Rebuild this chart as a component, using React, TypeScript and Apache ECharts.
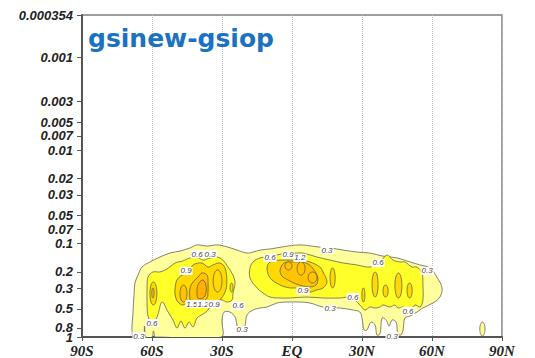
import React, { useEffect, useRef } from "react";
import * as echarts from "echarts";

// Zonal-mean difference field (latitude vs. pressure), drawn as filled contours.
// Every outline point is [latitude in degrees, pressure].

type LatP = [number, number];

const contourLevels = [0.3, 0.6, 0.9, 1.2, 1.5];
const levelColors = ["#ffff9c", "#ffff2a", "#ffd900", "#ffc300", "#ffb000"];

const xTickValues = [-90, -60, -30, 0, 30, 60, 90];
const xTickLabels = ["90S", "60S", "30S", "EQ", "30N", "60N", "90N"];

const yTickValues = [0.000354, 0.001, 0.003, 0.005, 0.007, 0.01, 0.02, 0.03, 0.05, 0.07, 0.1, 0.2, 0.3, 0.5, 0.8, 1];
const yTickLabels = ["0.000354", "0.001", "0.003", "0.005", "0.007", "0.01", "0.02", "0.03", "0.05", "0.07", "0.1", "0.2", "0.3", "0.5", "0.8", "1"];

// 0.3 contour: the broad band from 68S to 64N
const band03: LatP[] = [
  [-68.1, 1.0], [-68.1, 0.514], [-67.7, 0.355], [-67.3, 0.264], [-66.0, 0.217], [-64.3, 0.178],
  [-60.9, 0.157], [-56.6, 0.139], [-52.3, 0.126], [-48.0, 0.12], [-43.7, 0.111], [-40.7, 0.103],
  [-36.4, 0.106], [-32.1, 0.103], [-27.9, 0.108], [-23.6, 0.117], [-19.3, 0.126], [-16.7, 0.123],
  [-13.7, 0.117], [-9.4, 0.114], [-3.9, 0.108], [3.4, 0.103], [10.7, 0.108], [16.3, 0.111],
  [21.9, 0.117], [27.9, 0.123], [33.4, 0.126], [39.0, 0.136], [45.0, 0.142], [50.6, 0.157],
  [54.9, 0.169], [59.1, 0.182], [62.1, 0.228], [64.3, 0.298], [63.4, 0.373], [60.4, 0.432],
  [56.1, 0.489], [53.6, 0.54], [50.6, 0.596], [48.4, 0.626], [47.6, 0.841], [46.7, 0.952],
  [45.4, 0.929], [44.6, 0.691], [42.9, 0.657], [41.6, 0.762], [40.3, 0.657], [38.6, 0.626],
  [37.7, 0.929], [36.4, 0.952], [35.6, 0.744], [33.9, 0.691], [32.1, 0.841], [30.9, 0.841],
  [30.0, 0.626], [29.1, 0.54], [26.1, 0.514], [20.6, 0.489], [13.3, 0.477], [7.7, 0.432],
  [3.4, 0.422], [-2.1, 0.422], [-6.4, 0.432], [-10.7, 0.477], [-13.7, 0.489], [-16.7, 0.514],
  [-19.3, 0.581], [-20.1, 0.744], [-21.4, 0.906], [-23.1, 0.884], [-23.6, 0.744], [-24.4, 0.61],
  [-26.6, 0.54], [-29.1, 0.54], [-30.0, 0.657], [-30.4, 1.0], [-57.9, 1.0], [-58.7, 1.0],
  [-59.4, 0.862], [-60.0, 1.0], [-62.6, 1.0], [-63.2, 0.762], [-63.9, 1.0],
];

// 0.6 contours
const south06: LatP[] = [
  [-62.1, 0.298], [-61.7, 0.228], [-59.6, 0.201], [-56.6, 0.201], [-53.6, 0.187], [-50.1, 0.161],
  [-46.7, 0.153], [-43.7, 0.142], [-40.7, 0.139], [-38.1, 0.15], [-35.1, 0.142], [-32.1, 0.139],
  [-29.6, 0.15], [-27.4, 0.178], [-25.3, 0.217], [-24.4, 0.264], [-25.3, 0.338], [-25.7, 0.401],
  [-27.9, 0.422], [-30.0, 0.401], [-33.9, 0.422], [-36.0, 0.514], [-38.1, 0.567], [-40.7, 0.626],
  [-42.4, 0.781], [-44.1, 0.691], [-45.9, 0.801], [-47.6, 0.674], [-49.3, 0.801], [-51.0, 0.657],
  [-53.1, 0.54], [-55.7, 0.42], [-57.4, 0.567], [-58.7, 0.674], [-60.4, 0.691], [-61.7, 0.596],
  [-62.1, 0.454],
];
const north06: LatP[] = [
  [-18.0, 0.182], [-16.7, 0.157], [-13.7, 0.142], [-10.7, 0.139], [-6.4, 0.132], [-2.1, 0.126],
  [2.1, 0.126], [4.7, 0.126], [10.7, 0.139], [16.3, 0.15], [21.9, 0.161], [27.9, 0.169],
  [33.4, 0.178], [37.7, 0.157], [40.7, 0.132], [43.3, 0.15], [46.3, 0.157], [48.4, 0.157],
  [51.4, 0.178], [53.6, 0.178], [55.7, 0.206], [56.1, 0.277], [56.1, 0.401], [54.9, 0.477],
  [52.7, 0.454], [51.4, 0.514], [49.7, 0.54], [47.6, 0.477], [45.4, 0.489], [44.1, 0.454],
  [42.0, 0.477], [39.0, 0.454], [37.7, 0.477], [35.6, 0.489], [33.4, 0.477], [31.3, 0.514],
  [29.1, 0.454], [27.0, 0.401], [24.9, 0.373], [20.6, 0.382], [13.3, 0.382], [6.4, 0.373],
  [-0.9, 0.382], [-5.1, 0.382], [-9.4, 0.373], [-12.4, 0.338], [-15.0, 0.298], [-18.0, 0.233],
];

// 0.9 contours
const south09: LatP[] = [
  [-50.1, 0.298], [-49.3, 0.245], [-47.1, 0.217], [-44.6, 0.206], [-42.4, 0.169], [-38.6, 0.161],
  [-36.0, 0.178], [-33.9, 0.169], [-30.9, 0.161], [-28.7, 0.182], [-27.9, 0.257], [-28.7, 0.33],
  [-30.9, 0.401], [-33.0, 0.432], [-35.1, 0.422], [-37.3, 0.454], [-40.3, 0.432], [-42.4, 0.454],
  [-44.6, 0.422], [-46.7, 0.454], [-48.9, 0.422], [-50.1, 0.355],
];
const north09: LatP[] = [
  [-10.7, 0.182], [-9.4, 0.157], [-5.1, 0.15], [-0.9, 0.15], [3.4, 0.15], [7.7, 0.157],
  [12.0, 0.178], [13.3, 0.201], [15.0, 0.257], [13.3, 0.298], [10.7, 0.313], [7.7, 0.33],
  [4.7, 0.313], [2.1, 0.298], [-0.9, 0.298], [-5.1, 0.277], [-9.4, 0.233],
];

// 1.2 and 1.5 contours
const south12: LatP[] = [
  [-43.7, 0.401], [-43.7, 0.298], [-42.4, 0.257], [-40.3, 0.228], [-38.6, 0.206], [-36.4, 0.217],
  [-36.0, 0.257], [-36.0, 0.33], [-36.4, 0.382], [-38.6, 0.422], [-40.7, 0.422], [-42.9, 0.422],
];
const north12: LatP[] = [
  [-5.1, 0.191], [-3.4, 0.161], [0.0, 0.157], [3.4, 0.157], [6.9, 0.165], [9.4, 0.191],
  [11.1, 0.233], [10.3, 0.277], [7.7, 0.291], [4.7, 0.284], [1.7, 0.27], [-1.7, 0.245], [-4.3, 0.222],
];
const south15: LatP[] = [
  [-40.3, 0.382], [-40.7, 0.313], [-39.9, 0.264], [-38.1, 0.245], [-36.9, 0.277], [-36.9, 0.338], [-38.1, 0.382],
];

// Small closed contours: [centre latitude, half width (deg), top pressure, bottom pressure, level]
const smallLoops: [number, number, number, number, number][] = [
  [81.6, 1.1, 0.691, 0.976, 0.3],
  [-59.4, 1.5, 0.257, 0.454, 0.9],
  [-25.9, 0.65, 0.264, 0.33, 0.9],
  [-31.9, 1.9, 0.191, 0.33, 0.9],
  [17.4, 1.1, 0.182, 0.298, 0.9],
  [30.6, 0.65, 0.298, 0.422, 0.9],
  [35.6, 1.3, 0.201, 0.373, 0.9],
  [40.1, 1.1, 0.277, 0.373, 0.9],
  [45.6, 1.5, 0.206, 0.382, 0.9],
  [50.4, 1.1, 0.264, 0.382, 0.9],
  [-59.6, 0.5, 0.298, 0.382, 1.2],
  [-46.5, 1.5, 0.277, 0.422, 1.2],
  [-1.5, 1.5, 0.157, 0.191, 1.2],
  [3.9, 1.7, 0.157, 0.217, 1.2],
  [8.8, 1.9, 0.201, 0.264, 1.2],
];

// Contour line labels: [text, latitude, pressure]
const lineLabels: [string, number, number][] = [
  ["0.6", -40.7, 0.129], ["0.3", -35.1, 0.129], ["0.9", -45.4, 0.196],
  ["1.5", -42.9, 0.443], ["1.2", -38.1, 0.443], ["0.9", -33.4, 0.443],
  ["0.6", -23.1, 0.465], ["0.6", -60.0, 0.708], ["0.3", -21.4, 0.841], ["0.3", -65.6, 0.976],
  ["0.6", -9.4, 0.142], ["0.9", -1.7, 0.132], ["1.2", 3.4, 0.142], ["0.3", 15.0, 0.117],
  ["0.9", 4.7, 0.321], ["0.6", 26.1, 0.373], ["0.3", 16.3, 0.501], ["0.6", 36.9, 0.161],
  ["0.3", 57.9, 0.196], ["0.6", 49.7, 0.527], ["0.3", 42.9, 0.976],
];

type Shape =
  | { kind: "ring"; level: number; pts: LatP[] }
  | { kind: "loop"; level: number; lat: number; half: number; pTop: number; pBot: number };

const shapes: Shape[] = [
  { kind: "ring", level: 0.3, pts: band03 },
  { kind: "ring", level: 0.6, pts: south06 },
  { kind: "ring", level: 0.6, pts: north06 },
  { kind: "ring", level: 0.9, pts: south09 },
  { kind: "ring", level: 0.9, pts: north09 },
  { kind: "ring", level: 1.2, pts: south12 },
  { kind: "ring", level: 1.2, pts: north12 },
  { kind: "ring", level: 1.5, pts: south15 },
  ...smallLoops.map(([lat, half, pTop, pBot, level]) => ({ kind: "loop" as const, level, lat, half, pTop, pBot })),
].sort((a, b) => a.level - b.level);

const fillFor = (level: number) => levelColors[contourLevels.indexOf(level)];
const lp = (p: number) => Math.log10(p);

export default function App() {
  const ref = useRef<HTMLDivElement>(null);

  useEffect(() => {
    if (!ref.current) return;
    const chart = echarts.init(ref.current, undefined, { renderer: "svg" });
    const yTicks = yTickValues.map(lp);
    const labelFor = (v: number) => {
      const i = yTicks.findIndex((t) => Math.abs(t - v) < 1e-6);
      return i >= 0 ? yTickLabels[i] : "";
    };
    const yLabelStyle = {
      hideOverlap: false,
      showMinLabel: true,
      showMaxLabel: true,
      formatter: labelFor,
      fontFamily: "Liberation Sans",
      fontWeight: "bold",
      fontStyle: "italic",
      fontSize: 13,
      color: "#222",
      margin: 9,
    };
    // The surface tick ("1") sits on its own axis so it can overlap "0.8".
    const upperTicks = yTicks.slice(0, -1);
    const surfaceTick = yTicks.slice(-1);
    const yBase = {
      type: "value",
      inverse: true,
      position: "left",
      offset: 0,
      min: yTicks[0],
      max: 0,
      splitLine: { show: false },
    };

    chart.setOption({
      animation: false,
      grid: { left: 82, right: 33, top: 15, bottom: 21, show: true, borderColor: "#808080", borderWidth: 1.5 },
      xAxis: {
        type: "value",
        min: -90,
        max: 90,
        interval: 30,
        axisLine: { show: true, onZero: false, lineStyle: { color: "#555", width: 2 } },
        axisTick: { show: true, length: 4, lineStyle: { color: "#555" } },
        axisLabel: {
          formatter: (v: number) => xTickLabels[xTickValues.indexOf(Math.round(v))] ?? "",
          fontFamily: "Liberation Serif",
          fontWeight: "bold",
          fontStyle: "italic",
          fontSize: 15,
          color: "#222",
          margin: 6,
          showMinLabel: true,
          showMaxLabel: true,
        },
        splitLine: { show: true, lineStyle: { type: "dotted", color: "#bbb", width: 1 } },
      },
      yAxis: [
        {
          ...yBase,
          axisLine: { show: true, onZero: false, lineStyle: { color: "#555", width: 2 } },
          axisTick: { show: true, length: 5, customValues: upperTicks, lineStyle: { color: "#555" } },
          axisLabel: { ...yLabelStyle, customValues: upperTicks },
        },
        {
          ...yBase,
          axisLine: { show: false, onZero: false },
          axisTick: { show: true, length: 5, customValues: surfaceTick, lineStyle: { color: "#555" } },
          axisLabel: { ...yLabelStyle, customValues: surfaceTick },
        },
      ],
      series: [
        {
          type: "custom",
          clip: true,
          silent: true,
          data: shapes.map((s, i) => [i, 0]),
          encode: { x: -1, y: -1 },
          renderItem: (params: any, api: any) => {
            const s = shapes[params.dataIndex];
            const style = { fill: fillFor(s.level), stroke: "#5a5a50", lineWidth: 0.75 };
            if (s.kind === "ring") {
              const points = s.pts.map(([lat, p]) => api.coord([lat, lp(p)]));
              return { type: "polygon", shape: { points, smooth: 0.35 }, style };
            }
            const top = api.coord([s.lat, lp(s.pTop)]);
            const bot = api.coord([s.lat, lp(s.pBot)]);
            const left = api.coord([s.lat - s.half, lp(s.pTop)]);
            const right = api.coord([s.lat + s.half, lp(s.pTop)]);
            const cx = (left[0] + right[0]) / 2;
            const cy = (top[1] + bot[1]) / 2;
            const rx = (right[0] - left[0]) / 2;
            const ry = (bot[1] - top[1]) / 2;
            const points: number[][] = [];
            for (let k = 0; k < 36; k++) {
              const a = (k / 36) * Math.PI * 2;
              points.push([cx + rx * Math.cos(a), cy + ry * Math.sin(a)]);
            }
            return { type: "polygon", shape: { points }, style };
          },
          z: 2,
        },
        {
          type: "custom",
          clip: false,
          silent: true,
          data: lineLabels.map(([, lat, p]) => [lat, lp(p)]),
          renderItem: (params: any, api: any) => {
            const [text, lat, p] = lineLabels[params.dataIndex];
            const [x, y] = api.coord([lat, lp(p)]);
            return {
              type: "text",
              x,
              y,
              style: {
                text,
                fontSize: 8,
                fontStyle: "italic",
                fontFamily: "Liberation Sans",
                fill: "#444",
                align: "center",
                verticalAlign: "middle",
                backgroundColor: "#ffffff",
                padding: [0, 1],
              },
            };
          },
          z: 3,
        },
      ],
      graphic: [
        {
          type: "text",
          x: 88,
          y: 38.5,
          z: 10,
          style: {
            text: "gsinew-gsiop",
            fontFamily: "DejaVu Sans",
            fontWeight: "bold",
            fontSize: 25,
            fill: "#1a72c2",
            verticalAlign: "middle",
          },
        },
      ],
    });

    return () => chart.dispose();
  }, []);

  return (
    <div
      ref={ref}
      style={{ position: "fixed", left: 0, top: 0, width: 535, height: 358, background: "#fff" }}
    />
  );
}
